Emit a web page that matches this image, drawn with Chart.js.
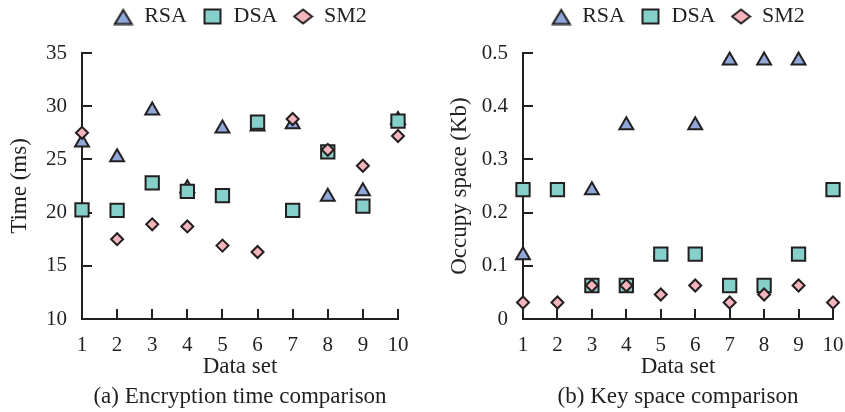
<!DOCTYPE html>
<html><head><meta charset="utf-8">
<script src="https://cdn.jsdelivr.net/npm/chart.js@4"></script>
<style>
html,body{margin:0;padding:0;background:#fff;overflow:hidden;width:845px;height:412px;}
.box{position:absolute;top:0;height:412px;}
#wa{left:0;width:480px;}
#wb{left:440px;width:476px;}
</style></head><body>
<div class="box" id="wa"><canvas id="ca"></canvas></div>
<div class="box" id="wb"><canvas id="cb"></canvas></div>
<script>
// ---- data ----
const dataSets = [1, 2, 3, 4, 5, 6, 7, 8, 9, 10];
const seriesNames = ['RSA', 'DSA', 'SM2'];
// (a) encryption time, ms
const timeRSA = [26.6, 25.2, 29.6, 22.3, 27.9, 28.1, 28.3, 21.5, 22.0, 28.7];
const timeDSA = [20.25, 20.2, 22.8, 22.0, 21.6, 28.5, 20.2, 25.7, 20.6, 28.6];
const timeSM2 = [27.5, 17.5, 18.9, 18.7, 16.9, 16.3, 28.8, 25.9, 24.4, 27.2];
// (b) key space, Kb
const spaceRSA = [0.12, null, 0.242, 0.364, null, 0.364, 0.486, 0.486, 0.486, null];
const spaceDSA = [0.243, 0.243, 0.063, 0.063, 0.122, 0.122, 0.063, 0.063, 0.122, 0.243];
const spaceSM2 = [0.031, 0.031, 0.063, 0.063, 0.046, 0.063, 0.031, 0.046, 0.063, 0.031];
// tick labels
const xTicks = [1, 2, 3, 4, 5, 6, 7, 8, 9, 10];
const yTicksTime = [10, 15, 20, 25, 30, 35];
const yTicksSpace = [0, 0.1, 0.2, 0.3, 0.4, 0.5];

// ---- style ----
const EDGE = '#231f20';
const FONT = '"Liberation Serif", "Times New Roman", serif';
const fills = ['#8fa7d9', '#86d0cb', '#f5b5bd'];
const styles = ['triangle', 'rect', 'rectRot'];
const radii = [8, 9.4, 6];
Chart.defaults.font.family = FONT;
Chart.defaults.color = EDGE;

function icon(shape, fill) {
  const c = document.createElement('canvas');
  let w, h;
  if (shape === 'triangle') { w = 21; h = 18; }
  else if (shape === 'rect') { w = 19; h = 17; }
  else { w = 21; h = 17; }
  c.width = w; c.height = h;
  const g = c.getContext('2d');
  g.fillStyle = fill; g.strokeStyle = EDGE; g.lineWidth = 2; g.lineJoin = 'miter';
  g.beginPath();
  if (shape === 'triangle') {
    g.moveTo(w / 2, 2.5); g.lineTo(w - 2, h - 1.5); g.lineTo(2, h - 1.5); g.closePath();
  } else if (shape === 'rect') {
    g.rect(1.5, 1.5, w - 3, h - 3);
  } else {
    g.moveTo(w / 2, 1.5); g.lineTo(w - 1.5, h / 2); g.lineTo(w / 2, h - 1.5); g.lineTo(1.5, h / 2); g.closePath();
  }
  g.fill(); g.stroke();
  return c;
}
const icons = styles.map((s, i) => icon(s, fills[i]));

function makeDatasets(seriesList) {
  return seriesList.map((vals, i) => ({
    label: seriesNames[i],
    data: dataSets.map((x, k) => ({ x: x, y: vals[k] })),
    pointStyle: styles[i],
    pointRadius: radii[i],
    pointHoverRadius: radii[i],
    backgroundColor: fills[i],
    borderColor: EDGE,
    borderWidth: 2,
    showLine: false,
    clip: false,
    order: 3 - i
  }));
}

function makeChart(id, seriesList, yTicks, yMin, yMax, yTitle, caption, leftW) {
  const axisCommon = {
    grid: { drawOnChartArea: false, drawTicks: true, tickLength: -10, color: EDGE, lineWidth: 2 },
    border: { display: true, color: EDGE, width: 2 }
  };
  return new Chart(document.getElementById(id), {
    type: 'scatter',
    data: { datasets: makeDatasets(seriesList) },
    options: {
      responsive: true,
      maintainAspectRatio: false,
      animation: false,
      layout: { padding: { top: -10, bottom: 1.5, left: 0, right: 0 } },
      plugins: {
        tooltip: { enabled: false },
        legend: {
          display: true,
          position: 'top',
          labels: {
            usePointStyle: true,
            pointStyleWidth: 20,
            padding: 15.5,
            color: EDGE,
            font: { size: 22, family: FONT },
            generateLabels: () => seriesNames.map((n, i) => ({
              text: n, pointStyle: icons[i], fillStyle: fills[i], strokeStyle: EDGE,
              lineWidth: 0, hidden: false, datasetIndex: i, fontColor: EDGE
            }))
          }
        },
        subtitle: { display: true, text: '', position: 'top', weight: 500,
          font: { size: 10, lineHeight: 1 }, padding: { top: 5.5, bottom: 0 } },
        title: { display: true, text: caption, position: 'bottom', color: EDGE,
          font: { size: 23, family: FONT, weight: 'normal', lineHeight: 1.2 }, padding: 0 }
      },
      scales: {
        x: Object.assign({}, axisCommon, {
          type: 'linear', position: 'bottom', min: 1, max: 10,
          afterBuildTicks: s => { s.ticks = xTicks.map(v => ({ value: v })); },
          afterFit: s => { s.height = 63.9; },
          ticks: { padding: 24, font: { size: 21 }, color: EDGE, callback: v => String(v) },
          title: { display: true, text: 'Data set', color: EDGE, font: { size: 23, lineHeight: 1.2 },
            padding: { top: 0, bottom: 2.1 } }
        }),
        y: Object.assign({}, axisCommon, {
          type: 'linear', position: 'left', min: yMin, max: yMax,
          afterBuildTicks: s => { s.ticks = yTicks.map(v => ({ value: v })); },
          afterFit: s => { s.width = leftW; },
          ticks: { padding: 25, font: { size: 21 }, color: EDGE, callback: v => String(v) },
          title: { display: true, text: yTitle, color: EDGE, font: { size: 23, lineHeight: 1.2 },
            padding: { top: 6.2, bottom: 0 } }
        }),
        pad: {
          type: 'linear', position: 'right', display: true,
          grid: { display: false }, border: { display: false }, ticks: { display: false },
          afterFit: s => { s.width = leftW; }
        }
      }
    }
  });
}

makeChart('ca', [timeRSA, timeDSA, timeSM2], yTicksTime, 10, 35, 'Time (ms)',
  '(a) Encryption time comparison', 82);
makeChart('cb', [spaceRSA, spaceDSA, spaceSM2], yTicksSpace, 0, 0.5, 'Occupy space (Kb)',
  '(b) Key space comparison', 83);
</script>
</body></html>
